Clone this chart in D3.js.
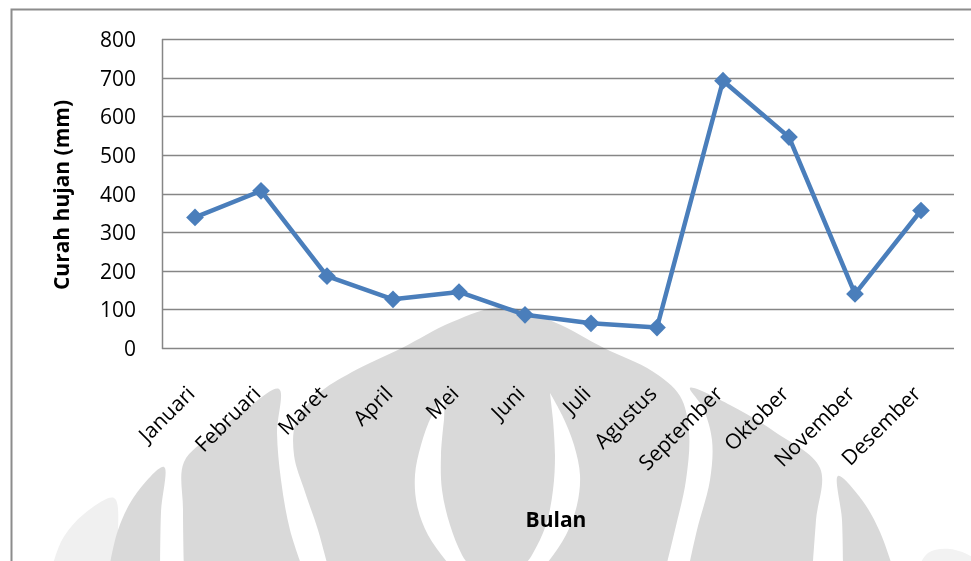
<!DOCTYPE html>
<html>
<head>
<meta charset="utf-8">
<script src="https://cdn.jsdelivr.net/npm/d3@7"></script>
<style>
  body { margin: 0; background: #ffffff; }
  text { font-family: "Open Sans", "DejaVu Sans", sans-serif; }
</style>
</head>
<body>
<svg id="chart" width="971" height="561"></svg>
<script>
// Monthly rainfall (mm)
const months = ["Januari", "Februari", "Maret", "April", "Mei", "Juni",
                "Juli", "Agustus", "September", "Oktober", "November", "Desember"];
const rainfall = [338, 407, 186, 126, 145, 86, 64, 53, 692, 546, 140, 356];
const yTicks = [0, 100, 200, 300, 400, 500, 600, 700, 800];
const yTitle = "Curah hujan (mm)";
const xTitle = "Bulan";

const svg = d3.select("#chart");
const W = 971, H = 561;
const plot = { left: 162, right: 954, top: 39, bottom: 348 };

const x = d3.scaleBand().domain(months).range([plot.left, plot.right]);
const y = d3.scaleLinear().domain([0, 800]).range([plot.bottom, plot.top]);
const cx = m => x(m) + x.bandwidth() / 2;

// ---- background emblem (light grey watermark) ----
const wm = svg.append("g").attr("class", "watermark");
const outline = d3.line().curve(d3.curveCatmullRom.alpha(0.5));
const shape = (pts, fill) => wm.append("path").attr("d", outline(pts) + "Z").attr("fill", fill);
const GREY = "#d9d9d9";

// faint outer edges
shape([[50, 575], [62, 540], [84, 514], [114, 498], [118, 530], [110, 575]], "#f0f0f0");
shape([[915, 575], [928, 553], [950, 549], [975, 560], [975, 575]], "#f2f2f2");

// outer petals (wings)
shape([[108, 575], [118, 530], [136, 494], [164, 467], [161, 512], [160, 575]], GREY);
shape([[843, 575], [842, 520], [838, 476], [862, 500], [880, 532], [895, 575]], GREY);

// middle petals
shape([[184, 575], [183, 510], [184, 462], [212, 435], [245, 410], [279, 389],
       [277, 433], [281, 480], [290, 530], [305, 575]], GREY);
shape([[687, 575], [697, 530], [710, 480], [712, 440], [703, 408], [690, 388],
       [730, 405], [775, 432], [820, 468], [816, 520], [812, 575]], GREY);

// central dome
shape([[330, 575], [318, 530], [305, 492], [294, 455], [296, 422], [318, 394],
       [352, 372], [402, 348], [452, 322], [503, 307], [554, 322], [604, 348],
       [652, 371], [680, 396], [689, 432], [686, 480], [675, 530], [664, 575]], GREY);

// inner white crescents
shape([[445, 395], [432, 415], [421, 445], [415, 475], [417, 505], [428, 535],
       [447, 562], [462, 580], [478, 580], [462, 555], [450, 525], [442, 490],
       [441, 455], [444, 420]], "#ffffff");
shape([[550, 393], [562, 415], [574, 445], [580, 475], [577, 505], [566, 535],
       [548, 562], [532, 580], [515, 580], [532, 555], [546, 525], [553, 490],
       [555, 455], [553, 420]], "#ffffff");

// ---- chart frame ----
svg.append("path")
  .attr("d", `M11.5,${H} V9.5 H${W}`)
  .attr("fill", "none")
  .attr("stroke", "#8c8c8c")
  .attr("stroke-width", 2);

// ---- gridlines and value axis line ----
const grid = svg.append("g").style("mix-blend-mode", "multiply");
grid.selectAll("line")
  .data(yTicks)
  .join("line")
  .attr("x1", plot.left).attr("x2", plot.right)
  .attr("y1", d => Math.round(y(d)) + 0.5).attr("y2", d => Math.round(y(d)) + 0.5)
  .attr("stroke", "#868686")
  .attr("stroke-width", 1.5);
grid.append("line")
  .attr("x1", plot.left + 0.5).attr("x2", plot.left + 0.5)
  .attr("y1", plot.top).attr("y2", plot.bottom + 1)
  .attr("stroke", "#868686")
  .attr("stroke-width", 1.5);

// ---- y axis labels ----
const yAxis = d3.axisLeft(y).tickValues(yTicks).tickSize(0).tickPadding(0);
const gy = svg.append("g")
  .attr("transform", `translate(${plot.left - 26},0)`)
  .call(yAxis);
gy.select(".domain").remove();
gy.selectAll("text")
  .attr("font-family", "Open Sans, sans-serif")
  .attr("font-size", 21)
  .attr("fill", "#000")
  .attr("dy", "0.36em");

// ---- x axis labels (rotated) ----
svg.append("g")
  .selectAll("text")
  .data(months)
  .join("text")
  .attr("transform", d => `translate(${cx(d) + 1},395) rotate(-45)`)
  .attr("text-anchor", "end")
  .attr("font-size", 21)
  .attr("fill", "#000")
  .text(d => d);

// ---- axis titles ----
svg.append("text")
  .attr("transform", `translate(69,195) rotate(-90)`)
  .attr("text-anchor", "middle")
  .attr("font-size", 21)
  .attr("font-weight", "bold")
  .attr("fill", "#000")
  .text(yTitle);

svg.append("text")
  .attr("x", 556).attr("y", 527)
  .attr("text-anchor", "middle")
  .attr("font-size", 21)
  .attr("font-weight", "bold")
  .attr("fill", "#000")
  .text(xTitle);

// ---- rainfall line ----
const series = months.map((m, i) => ({ m, v: rainfall[i] }));
const lineGen = d3.line().x(d => cx(d.m)).y(d => y(d.v));
svg.append("path")
  .datum(series)
  .attr("d", lineGen)
  .attr("fill", "none")
  .attr("stroke", "#4a7ebb")
  .attr("stroke-width", 4.5)
  .attr("stroke-linejoin", "round");

const diamond = d3.symbol().type(d3.symbolDiamond2).size(200);
svg.append("g")
  .selectAll("path")
  .data(series)
  .join("path")
  .attr("transform", d => `translate(${cx(d.m)},${y(d.v)})`)
  .attr("d", diamond)
  .attr("fill", "#4a7ebb");
</script>
</body>
</html>
